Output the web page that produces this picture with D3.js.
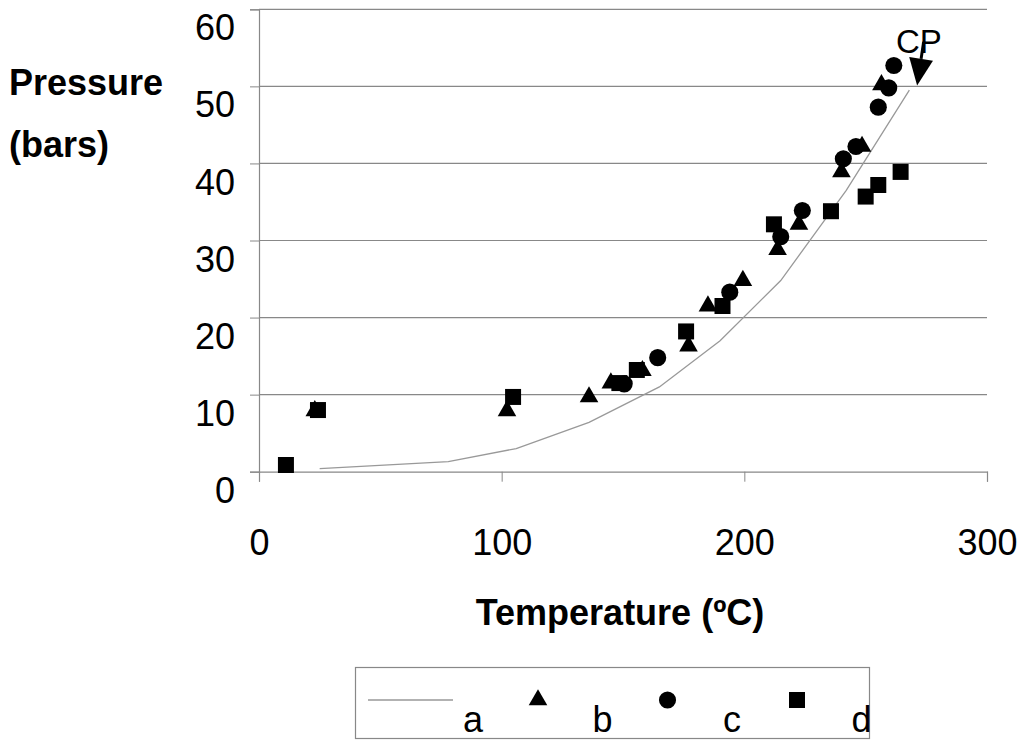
<!DOCTYPE html>
<html>
<head>
<meta charset="utf-8">
<script src="https://cdn.jsdelivr.net/npm/d3@7"></script>
<style>
  body { margin: 0; background: #fff; }
  svg { display: block; font-family: Arial, "Liberation Sans", sans-serif; }
</style>
</head>
<body>
<div id="chart"></div>
<script>
// curve "a" (temperature, pressure)
var curveT = [25, 78, 106, 136, 165, 190, 215, 242, 268];
var curveP = [0.4, 1.3, 3.0, 6.4, 11.0, 17.0, 24.8, 36.5, 49.5];

// series b (triangles)
var bT = [23, 102.2, 136, 145, 158, 177, 185, 199.4, 213.7, 222.5, 240, 248.5, 256.5];
var bP = [7.9, 7.9, 9.7, 11.5, 13.1, 16.3, 21.5, 24.8, 28.8, 32.1, 38.9, 42.2, 50.2];

// series c (circles)
var cT = [150.5, 164.3, 194, 215, 223.9, 240.8, 246, 255.2, 259.5, 261.6];
var cP = [11.4, 14.8, 23.3, 30.5, 33.9, 40.6, 42.2, 47.3, 49.8, 52.7];

// series d (squares)
var dT = [11.1, 24.3, 104.7, 148.5, 155.7, 176, 191, 212.2, 235.7, 250, 255.2, 264.4];
var dP = [0.87, 8.0, 9.7, 11.5, 13.2, 18.2, 21.5, 32.1, 33.8, 35.7, 37.2, 38.9];

var xTicks = [0, 100, 200, 300];
var yTicks = [0, 10, 20, 30, 40, 50, 60];
var legendLabels = ["a", "b", "c", "d"];

// CP arrow: start and tip
var cpArrow = [[273.9, 55.8], [271.2, 50.1]];

var width = 1024, height = 747;
var svg = d3.select("#chart").append("svg")
    .attr("width", width).attr("height", height);

var x = d3.scaleLinear().domain([0, 300]).range([259, 987]);
var y = d3.scaleLinear().domain([0, 60]).range([471.7, 9.3]);

var gray = "#888";

// gridlines
svg.append("g").selectAll("line").data(yTicks.filter(function(d) { return d > 0; }))
  .enter().append("line")
  .attr("x1", x(0)).attr("x2", x(300))
  .attr("y1", function(d) { return y(d); }).attr("y2", function(d) { return y(d); })
  .attr("stroke", gray).attr("stroke-width", 1.2);

// y axis
var yAxis = svg.append("g").attr("transform", "translate(" + x(0) + ",0)")
  .call(d3.axisLeft(y).tickValues(yTicks).tickSize(9).tickFormat(d3.format("d")));
yAxis.select(".domain").attr("stroke", gray).attr("stroke-width", 1.2);
yAxis.selectAll(".tick line").attr("stroke", gray);
yAxis.selectAll(".tick text")
  .attr("x", -24).attr("dy", "0.85em")
  .attr("font-size", 36).attr("font-family", "Arial, 'Liberation Sans', sans-serif")
  .attr("fill", "#000");

// x axis
var xAxis = svg.append("g").attr("transform", "translate(0," + y(0) + ")")
  .call(d3.axisBottom(x).tickValues(xTicks).tickSize(10).tickFormat(d3.format("d")));
xAxis.select(".domain").attr("stroke", gray).attr("stroke-width", 1.2);
xAxis.selectAll(".tick line").attr("stroke", gray);
xAxis.selectAll(".tick text")
  .attr("y", 58)
  .attr("font-size", 36).attr("font-family", "Arial, 'Liberation Sans', sans-serif")
  .attr("fill", "#000");

// axis titles
svg.append("text").attr("x", 620).attr("y", 625)
  .attr("text-anchor", "middle").attr("font-size", 36).attr("font-weight", "bold")
  .text("Temperature (ºC)");
svg.append("text").attr("x", 9).attr("y", 95)
  .attr("font-size", 36).attr("font-weight", "bold").text("Pressure");
svg.append("text").attr("x", 9).attr("y", 157)
  .attr("font-size", 36).attr("font-weight", "bold").text("(bars)");

// curve a
var curveData = curveT.map(function(t, i) { return [t, curveP[i]]; });
svg.append("path").datum(curveData)
  .attr("fill", "none").attr("stroke", "#999").attr("stroke-width", 1.3)
  .attr("d", d3.line().x(function(d) { return x(d[0]); }).y(function(d) { return y(d[1]); }));

// markers
function drawSeries(ts, ps, type, size) {
  var sym = d3.symbol().type(type).size(size);
  svg.append("g").selectAll("path").data(ts.map(function(t, i) { return [t, ps[i]]; }))
    .enter().append("path")
    .attr("transform", function(d) { return "translate(" + x(d[0]) + "," + y(d[1]) + ")"; })
    .attr("d", sym).attr("fill", "#000");
}
drawSeries(bT, bP, d3.symbolTriangle, 150);
drawSeries(cT, cP, d3.symbolCircle, 230);
drawSeries(dT, dP, d3.symbolSquare, 256);

// CP label and arrow
svg.append("text").attr("x", x(262.5)).attr("y", 53)
  .attr("font-size", 33).text("CP");
var a0 = [x(cpArrow[0][0]), y(cpArrow[0][1])], a1 = [x(cpArrow[1][0]), y(cpArrow[1][1])];
var ang = Math.atan2(a1[1] - a0[1], a1[0] - a0[0]);
var headLen = 27, headW = 12;
var bx = a1[0] - headLen * Math.cos(ang), by = a1[1] - headLen * Math.sin(ang);
svg.append("line").attr("x1", a0[0]).attr("y1", a0[1]).attr("x2", bx).attr("y2", by)
  .attr("stroke", "#000").attr("stroke-width", 3);
svg.append("polygon")
  .attr("points", [
    [a1[0], a1[1]],
    [bx + headW * Math.sin(ang), by - headW * Math.cos(ang)],
    [bx - headW * Math.sin(ang), by + headW * Math.cos(ang)]
  ].map(function(p) { return p.join(","); }).join(" "))
  .attr("fill", "#000");

// legend
var legend = svg.append("g");
legend.append("rect").attr("x", 355.5).attr("y", 667.5).attr("width", 514).attr("height", 71)
  .attr("fill", "#fff").attr("stroke", gray).attr("stroke-width", 1.2);
legend.append("line").attr("x1", 368).attr("x2", 453).attr("y1", 700).attr("y2", 700)
  .attr("stroke", "#999").attr("stroke-width", 1.3);
var legendSyms = [d3.symbolTriangle, d3.symbolCircle, d3.symbolSquare];
var legendSizes = [150, 230, 256];
legendSyms.forEach(function(s, i) {
  legend.append("path")
    .attr("transform", "translate(" + (538 + i * 129.5) + ",700)")
    .attr("d", d3.symbol().type(s).size(legendSizes[i])).attr("fill", "#000");
});
legend.selectAll("text").data(legendLabels).enter().append("text")
  .attr("x", function(d, i) { return 473 + i * 129.5; }).attr("y", 732)
  .attr("text-anchor", "middle").attr("font-size", 36)
  .text(function(d) { return d; });
</script>
</body>
</html>
